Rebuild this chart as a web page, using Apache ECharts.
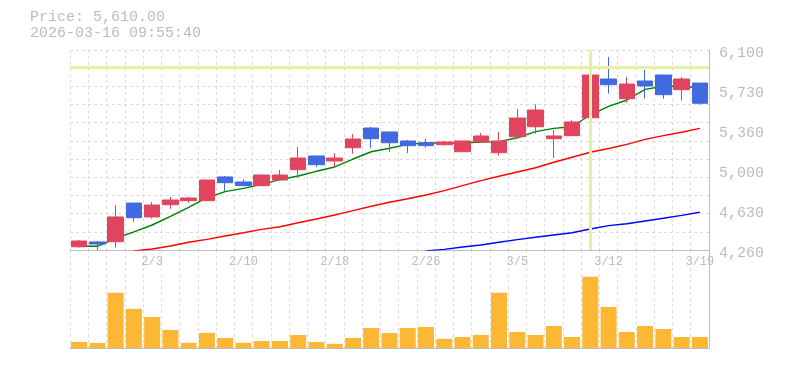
<!DOCTYPE html>
<html>
<head>
<meta charset="utf-8">
<script src="https://cdn.jsdelivr.net/npm/echarts@6/dist/echarts.min.js"></script>
<style>
html,body{margin:0;padding:0;background:#fff;}
#c{width:785px;height:370px;}
</style>
</head>
<body>
<div id="c"></div>
<script>
var dates = ['1/28','1/29','1/30','2/2','2/3','2/4','2/5','2/6','2/9','2/10','2/12','2/13','2/16','2/17','2/18','2/19','2/20','2/24','2/25','2/26','2/27','3/2','3/3','3/4','3/5','3/6','3/9','3/10','3/11','3/12','3/13','3/16','3/17','3/18','3/19'];
var opens  = [4290,4334,4336,4692,4564,4677,4714,4714,4932,4886,4852,4904,4999,5125,5079,5201,5382,5346,5263,5247,5229,5164,5254,5155,5302,5394,5284,5312,5477,5833,5652,5815,5870,5735,5796];
var highs  = [4352,4343,4674,4692,4702,4748,4750,4908,4941,4910,4955,4996,5208,5125,5152,5327,5392,5346,5272,5281,5263,5263,5336,5346,5557,5600,5364,5456,6100,6036,5852,5916,5870,5852,5796];
var lows   = [4281,4260,4281,4520,4548,4640,4695,4710,4803,4850,4848,4902,4925,5024,5021,5146,5198,5164,5152,5201,5220,5164,5254,5128,5284,5330,5106,5312,5438,5698,5615,5652,5652,5634,5597];
var closes = [4343,4315,4564,4557,4674,4720,4738,4904,4879,4852,4950,4950,5106,5045,5106,5281,5284,5247,5220,5220,5254,5263,5309,5263,5474,5548,5309,5438,5870,5781,5787,5769,5689,5833,5610];
var ma5  = [4294,4294,4368,4426,4490,4570,4653,4741,4797,4827,4864,4907,4941,4984,5024,5097,5164,5196,5232,5244,5244,5244,5254,5257,5293,5349,5379,5394,5504,5582,5640,5738,5766,5769,5750];
var ma25 = [null,null,null,4252,4269,4297,4331,4358,4389,4419,4450,4474,4511,4545,4582,4622,4662,4699,4732,4766,4806,4852,4898,4938,4978,5017,5067,5113,5159,5194,5232,5278,5312,5343,5379];
var ma75 = [null,null,null,null,null,null,null,null,null,null,null,null,null,null,null,null,null,null,null,4252,4266,4288,4306,4331,4355,4377,4398,4419,4453,4484,4502,4527,4552,4579,4607];
var volumes = [61,50,553,392,310,180,52,150,100,52,70,70,130,60,42,100,200,150,200,210,92,110,130,553,160,130,220,110,712,410,160,220,190,110,110];
var yTickLabels = ['4,260','4,630','5,000','5,360','5,730','6,100'];
var priceMin = 4260, priceMax = 6100;
var crossIndex = 28, crossPrice = 5940;
var headerPrice = 'Price: 5,610.00';
var headerTime = '2026-03-16 09:55:40';

var candleData = opens.map(function(o, i){ return [o, closes[i], lows[i], highs[i]]; });

var FONT = '"Liberation Mono", "DejaVu Sans Mono", monospace';
var GRID_LINE = {show:true, lineStyle:{color:'#dcdcdc', type:[3,3], width:1}};
var AXIS_COL = '#bdbdbd';
var TXT_COL = '#bcbcbc';

var chart = echarts.init(document.getElementById('c'), null, {renderer:'canvas'});
chart.setOption({
  animation:false,
  backgroundColor:'#ffffff',
  graphic:[
    {type:'text', left:30, top:10, style:{text:headerPrice, font:'15px ' + FONT, fill:TXT_COL}},
    {type:'text', left:30, top:26, style:{text:headerTime, font:'15px ' + FONT, fill:TXT_COL}}
  ],
  grid:[
    {left:70, right:76, top:50, height:200},
    {left:70, right:76, top:250, height:98}
  ],
  xAxis:[
    {type:'category', gridIndex:0, data:dates, boundaryGap:true,
     axisLine:{show:true, lineStyle:{color:AXIS_COL, width:1}},
     axisTick:{show:false},
     axisLabel:{show:true, interval:function(i){ return i % 5 === 4; }, color:TXT_COL, fontFamily:FONT, fontSize:12, margin:6},
     splitLine:Object.assign({interval:0}, GRID_LINE)},
    {type:'category', gridIndex:1, data:dates, boundaryGap:true,
     axisLine:{show:true, lineStyle:{color:AXIS_COL, width:1}},
     axisTick:{show:false}, axisLabel:{show:false},
     splitLine:Object.assign({interval:0}, GRID_LINE)}
  ],
  yAxis:[
    {type:'value', gridIndex:0, position:'right', min:priceMin, max:priceMax, scale:true,
     axisLine:{show:true, lineStyle:{color:AXIS_COL, width:1}}, axisTick:{show:false},
     axisLabel:{show:false}, splitLine:{show:false}},
    {type:'value', gridIndex:0, position:'right', min:0, max:yTickLabels.length - 1, interval:1,
     axisLine:{show:false}, axisTick:{show:false}, splitLine:{show:false},
     axisLabel:{show:true, margin:10,
                formatter:function(v){ return '{t|' + yTickLabels[Math.round(v)] + '}'; },
                rich:{t:{color:TXT_COL, fontFamily:FONT, fontSize:15, padding:[7,0,0,0]}}}},
    {type:'value', gridIndex:0, position:'left', min:0, max:11, interval:1,
     axisLine:{show:false}, axisTick:{show:false}, axisLabel:{show:false},
     splitLine:GRID_LINE},
    {type:'value', gridIndex:1, position:'right', min:0, max:980,
     axisLine:{show:true, lineStyle:{color:AXIS_COL, width:1}}, axisTick:{show:false},
     axisLabel:{show:false}, splitLine:{show:false}}
  ],
  series:[
    {type:'line', xAxisIndex:0, yAxisIndex:0, data:[], z:1, silent:true,
     markLine:{silent:true, symbol:'none', animation:false, label:{show:false},
               lineStyle:{color:'#e3f2a2', width:3, type:'solid'},
               emphasis:{disabled:true},
               data:[{xAxis:crossIndex}, {yAxis:crossPrice}]}},
    {type:'line', name:'MA75', xAxisIndex:0, yAxisIndex:0, data:ma75, z:2, symbol:'none', clip:true,
     lineStyle:{color:'#0000ff', width:1.4}},
    {type:'line', name:'MA25', xAxisIndex:0, yAxisIndex:0, data:ma25, z:2, symbol:'none', clip:true,
     lineStyle:{color:'#ff0000', width:1.4}},
    {type:'line', name:'MA5', xAxisIndex:0, yAxisIndex:0, data:ma5, z:2, symbol:'none', clip:true,
     lineStyle:{color:'#008000', width:1.4}},
    {type:'candlestick', xAxisIndex:0, yAxisIndex:0, data:candleData, z:3, barWidth:16,
     itemStyle:{color:'#e1445f', color0:'#4169e1', borderColor:'#e1445f', borderColor0:'#4169e1', borderWidth:1}},
    {type:'bar', xAxisIndex:1, yAxisIndex:3, data:volumes, barWidth:16,
     itemStyle:{color:'#fcb734'}}
  ]
});
</script>
</body>
</html>
